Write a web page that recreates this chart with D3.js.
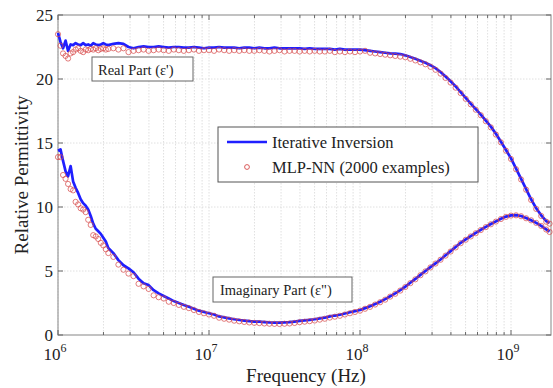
<!DOCTYPE html>
<html><head><meta charset="utf-8">
<script src="https://cdn.jsdelivr.net/npm/d3@7"></script>
<style>body{margin:0;background:#fff}svg{display:block}</style>
</head><body><svg id="c" width="553" height="388"></svg>
<script>
// ---- data ----
const freq = [1.000e6,1.039e6,1.080e6,1.122e6,1.166e6,1.212e6,1.259e6,1.308e6,1.359e6,1.413e6,1.468e6,1.525e6,1.585e6,1.647e6,1.711e6,1.778e6,1.848e6,1.920e6,1.995e6,2.073e6,2.154e6,
2.326e6,2.512e6,2.712e6,2.929e6,3.162e6,3.415e6,3.687e6,3.981e6,4.299e6,4.642e6,5.012e6,5.412e6,5.843e6,6.310e6,6.813e6,7.356e6,7.943e6,8.577e6,9.261e6,
1.000e7,1.080e7,1.166e7,1.259e7,1.359e7,1.468e7,1.585e7,1.711e7,1.848e7,1.995e7,2.154e7,2.326e7,2.512e7,2.712e7,2.929e7,3.162e7,3.415e7,3.687e7,3.981e7,4.299e7,4.642e7,5.012e7,5.412e7,5.843e7,6.310e7,6.813e7,7.356e7,7.943e7,8.577e7,9.261e7,
1.000e8,1.080e8,1.166e8,1.259e8,1.359e8,1.468e8,1.585e8,1.711e8,1.848e8,1.995e8,2.154e8,2.326e8,2.512e8,2.712e8,2.929e8,3.162e8,3.415e8,3.687e8,3.981e8,4.299e8,4.642e8,5.012e8,5.412e8,5.843e8,6.310e8,6.813e8,7.356e8,7.943e8,8.577e8,9.261e8,
1.000e9,1.080e9,1.166e9,1.259e9,1.359e9,1.468e9,1.585e9,1.711e9,1.800e9];

const realIter = [23.6,22.9,22.4,23.0,22.2,22.7,22.65,22.8,22.7,22.65,22.8,22.65,22.7,22.6,22.8,22.7,22.65,22.7,22.8,22.7,22.65,
22.75,22.8,22.75,22.5,22.4,22.5,22.55,22.5,22.5,22.55,22.5,22.45,22.5,22.5,22.45,22.45,22.5,22.45,22.4,
22.45,22.45,22.5,22.45,22.45,22.45,22.4,22.45,22.45,22.4,22.45,22.4,22.4,22.45,22.4,22.4,22.4,22.4,22.4,22.35,22.4,22.35,22.35,22.35,22.35,22.3,22.35,22.3,22.3,22.3,
22.3,22.25,22.2,22.15,22.1,22.05,22.0,21.98,21.95,21.85,21.72,21.58,21.43,21.27,21.08,20.85,20.55,20.2,19.82,19.42,18.98,18.52,18.08,17.65,17.22,16.75,16.28,15.72,15.1,14.45,
13.8,13.0,12.2,11.4,10.6,9.9,9.35,8.9,8.75];

const realMLP = [23.5,22.6,22.0,21.8,21.6,22.0,22.1,22.3,22.4,22.2,22.1,22.3,22.25,22.35,22.3,22.4,22.25,22.35,22.4,22.3,22.35,
22.4,22.3,22.4,22.1,22.2,22.25,22.3,22.2,22.25,22.3,22.25,22.2,22.3,22.25,22.2,22.25,22.3,22.2,22.25,
22.25,22.2,22.3,22.25,22.2,22.25,22.2,22.25,22.2,22.2,22.25,22.2,22.15,22.2,22.25,22.15,22.2,22.2,22.15,22.2,22.15,22.2,22.15,22.15,22.2,22.1,22.15,22.1,22.15,22.1,
22.15,22.2,22.05,22.0,21.95,21.9,21.85,21.8,21.75,21.7,21.58,21.45,21.3,21.15,20.95,20.72,20.42,20.08,19.72,19.32,18.9,18.45,18.02,17.6,17.17,16.7,16.22,15.66,15.05,14.4,
13.75,12.95,12.15,11.35,10.55,9.85,9.3,8.85,8.7];

const imagIter = [14.4,14.5,13.6,12.8,12.4,13.2,12.0,11.5,11.1,10.6,10.3,10.1,9.8,9.3,8.7,8.3,8.1,7.9,7.6,7.3,6.8,
6.4,5.85,5.45,5.2,4.9,4.4,4.05,3.9,3.5,3.25,3.05,2.85,2.65,2.5,2.35,2.2,2.05,1.9,1.8,
1.7,1.6,1.45,1.38,1.3,1.23,1.17,1.13,1.08,1.05,1.04,1.01,0.98,0.97,0.96,0.98,1.0,1.05,1.1,1.14,1.18,1.23,1.3,1.36,1.45,1.52,1.58,1.68,1.78,1.86,
1.95,2.1,2.25,2.42,2.6,2.8,3.03,3.25,3.5,3.78,4.08,4.38,4.7,5.0,5.3,5.6,5.9,6.23,6.55,6.87,7.2,7.47,7.72,7.97,8.22,8.45,8.67,8.88,9.08,9.25,
9.35,9.37,9.3,9.14,8.96,8.76,8.52,8.25,8.07];

const imagMLP = [13.9,13.9,12.5,12.2,11.8,11.4,11.3,10.4,10.2,9.9,9.8,9.6,9.0,8.6,7.8,7.7,7.5,7.2,7.0,6.7,6.4,
6.1,5.5,5.1,4.8,4.6,4.0,3.8,3.6,3.1,2.95,2.85,2.6,2.5,2.35,2.2,2.1,1.95,1.8,1.7,
1.6,1.5,1.35,1.27,1.2,1.12,1.07,1.02,0.98,0.95,0.93,0.9,0.88,0.87,0.86,0.88,0.9,0.94,1.0,1.04,1.08,1.13,1.2,1.27,1.36,1.43,1.5,1.6,1.7,1.8,
1.9,2.05,2.2,2.38,2.56,2.76,3.0,3.22,3.47,3.75,4.05,4.35,4.67,4.97,5.28,5.58,5.88,6.2,6.52,6.84,7.17,7.44,7.7,7.95,8.2,8.43,8.65,8.86,9.06,9.23,
9.33,9.35,9.28,9.12,8.96,8.76,8.52,8.24,8.05];

const yTicks = [0,5,10,15,20,25];
const xMajor = [1e6,1e7,1e8,1e9];
const xExp = ["6","7","8","9"];
const legendLabels = ["Iterative Inversion","MLP-NN (2000 examples)"];
const partLabels = ["Real Part (\u03b5')", "Imaginary Part (\u03b5\")"];

// ---- layout ----
const svg = d3.select("#c");
const L = 58, R = 551, T = 15, B = 335;
const x = d3.scaleLog().domain([1e6, 1.84e9]).range([L, R]);
const y = d3.scaleLinear().domain([0, 25]).range([B, T]);
const serif = "'Liberation Serif','Times New Roman',serif";

// minor ticks
const minor = [];
[1e6,1e7,1e8,1e9].forEach(d => { for (let m=2;m<=9;m++){ const v=d*m; if (v<=1.84e9) minor.push(v);} });
const allX = xMajor.concat(minor);

const grid = svg.append("g");
grid.selectAll("line.vx").data(allX).enter().append("line")
  .attr("x1", d=>x(d)).attr("x2", d=>x(d)).attr("y1", T).attr("y2", B)
  .attr("stroke", "#d8d8d8").attr("stroke-width", 0.8).attr("stroke-dasharray", "1.5,1.5");
grid.selectAll("line.hy").data(yTicks.slice(1,-1)).enter().append("line")
  .attr("x1", L).attr("x2", R).attr("y1", d=>y(d)).attr("y2", d=>y(d))
  .attr("stroke", "#d8d8d8").attr("stroke-width", 0.8).attr("stroke-dasharray", "1.5,1.5");

// frame
svg.append("rect").attr("x", L).attr("y", T).attr("width", R-L).attr("height", B-T)
  .attr("fill", "none").attr("stroke", "#9a9a9a").attr("stroke-width", 1.2);

// ticks (inward)
const tk = svg.append("g").attr("stroke", "#666").attr("stroke-width", 1);
xMajor.forEach(d => {
  tk.append("line").attr("x1", x(d)).attr("x2", x(d)).attr("y1", B).attr("y2", B-5);
  tk.append("line").attr("x1", x(d)).attr("x2", x(d)).attr("y1", T).attr("y2", T+5);
});
minor.forEach(d => {
  tk.append("line").attr("x1", x(d)).attr("x2", x(d)).attr("y1", B).attr("y2", B-3);
  tk.append("line").attr("x1", x(d)).attr("x2", x(d)).attr("y1", T).attr("y2", T+3);
});
yTicks.forEach(d => {
  tk.append("line").attr("x1", L).attr("x2", L+5).attr("y1", y(d)).attr("y2", y(d));
  tk.append("line").attr("x1", R).attr("x2", R-5).attr("y1", y(d)).attr("y2", y(d));
});

// tick labels
svg.append("g").selectAll("text").data(yTicks).enter().append("text")
  .attr("x", L-5).attr("y", d=>y(d)+6).attr("text-anchor","end")
  .attr("font-family", serif).attr("font-size", 17).attr("fill", "#222").text(d=>d);
const xl = svg.append("g").selectAll("text").data(xMajor).enter().append("text")
  .attr("x", d=>x(d)-3).attr("y", 360).attr("text-anchor","middle")
  .attr("font-family", serif).attr("font-size", 17).attr("fill", "#222");
xl.append("tspan").text("10");
xl.append("tspan").attr("dy", -8).attr("font-size", 12).text((d,i)=>xExp[i]);

// axis titles
svg.append("text").attr("x", 306).attr("y", 382).attr("text-anchor","middle")
  .attr("font-family", serif).attr("font-size", 19).attr("fill", "#222").text("Frequency (Hz)");
svg.append("text").attr("transform", "translate(28,175) rotate(-90)").attr("text-anchor","middle")
  .attr("font-family", serif).attr("font-size", 19).attr("fill", "#222").text("Relative Permittivity");

// series
const line = d3.line().x((d,i)=>x(freq[i])).y(d=>y(d));
const blue = "#1f1fff", red = "#d64a4a";
[realIter, imagIter].forEach(s => {
  svg.append("path").datum(s).attr("d", line).attr("fill","none")
    .attr("stroke", blue).attr("stroke-width", 2.7).attr("stroke-linejoin","round");
});
[realMLP, imagMLP].forEach(s => {
  svg.append("g").selectAll("circle").data(s).enter().append("circle")
    .attr("cx", (d,i)=>x(freq[i])).attr("cy", d=>y(d)).attr("r", 2.6)
    .attr("fill","none").attr("stroke", red).attr("stroke-width", 0.8).attr("opacity", 0.9);
});

// part labels
function boxLabel(bx, by, bw, bh, txt, tx, ty, fs) {
  svg.append("rect").attr("x", bx).attr("y", by).attr("width", bw).attr("height", bh)
    .attr("fill","#fff").attr("stroke","#666").attr("stroke-width",1);
  svg.append("text").attr("x", tx).attr("y", ty).attr("font-family", serif)
    .attr("font-size", fs).attr("fill","#222").text(txt);
}
boxLabel(92, 57, 101, 24, partLabels[0], 98, 74.5, 14.5);
boxLabel(213, 277, 139, 25, partLabels[1], 220, 294.5, 14.5);

// legend
svg.append("rect").attr("x", 218).attr("y", 127).attr("width", 260).attr("height", 55)
  .attr("fill","#fff").attr("stroke","#555").attr("stroke-width",1);
svg.append("line").attr("x1", 227).attr("x2", 267).attr("y1", 142).attr("y2", 142)
  .attr("stroke", blue).attr("stroke-width", 2.7);
svg.append("circle").attr("cx", 247).attr("cy", 167).attr("r", 2.4)
  .attr("fill","none").attr("stroke", red).attr("stroke-width", 0.9);
svg.append("g").selectAll("text").data(legendLabels).enter().append("text")
  .attr("x", 272).attr("y", (d,i)=>148 + i*25).attr("font-family", serif)
  .attr("font-size", 16.5).attr("fill","#222").text(d=>d);
</script></body></html>
